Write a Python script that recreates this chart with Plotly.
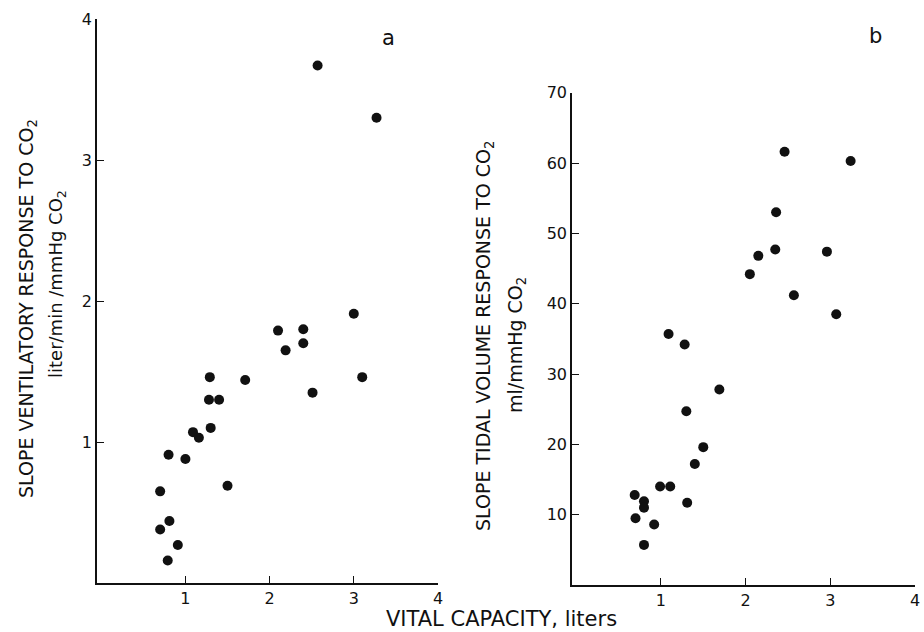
import plotly.graph_objects as go

# Panel a: slope ventilatory response vs vital capacity
vc_a = [2.57, 3.27, 3.00, 2.10, 2.40, 2.19, 2.40, 1.29, 1.71, 3.10, 2.51, 1.28,
        1.40, 1.30, 1.09, 1.16, 0.80, 1.00, 1.50, 0.70, 0.81, 0.70, 0.91, 0.79]
vent_a = [3.67, 3.30, 1.91, 1.79, 1.80, 1.65, 1.70, 1.46, 1.44, 1.46, 1.35, 1.30,
          1.30, 1.10, 1.07, 1.03, 0.91, 0.88, 0.69, 0.65, 0.44, 0.38, 0.27, 0.16]

# Panel b: slope tidal volume response vs vital capacity
vc_b = [2.46, 3.24, 2.36, 2.35, 2.15, 2.96, 2.05, 2.57, 3.07, 1.09, 1.28, 1.69,
        1.30, 1.50, 1.40, 0.99, 1.11, 1.31, 0.69, 0.80, 0.80, 0.70, 0.92, 0.80]
tv_b = [61.6, 60.3, 53.0, 47.7, 46.8, 47.4, 44.2, 41.2, 38.5, 35.7, 34.2, 27.8,
        24.7, 19.6, 17.2, 14.0, 14.0, 11.7, 12.8, 11.9, 11.0, 9.5, 8.6, 5.7]

x_ticks = [1, 2, 3, 4]
ya_ticks = [1, 2, 3, 4]
yb_ticks = [10, 20, 30, 40, 50, 60, 70]

FONT = "DejaVu Sans"
INK = "#111111"

fig = go.Figure()
marker = dict(color=INK, size=10, line=dict(width=0))
fig.add_trace(go.Scatter(x=vc_a, y=vent_a, mode="markers", marker=marker,
                         xaxis="x", yaxis="y", showlegend=False))
fig.add_trace(go.Scatter(x=vc_b, y=tv_b, mode="markers", marker=marker,
                         xaxis="x2", yaxis="y2", showlegend=False))

axis_common = dict(showline=True, linecolor=INK, linewidth=1.6, ticks="inside",
                   ticklen=7, tickwidth=1.4, tickcolor=INK, showgrid=False,
                   zeroline=False, automargin=False,
                   tickfont=dict(family=FONT, size=16, color=INK))

fig.update_layout(
    width=924, height=632,
    margin=dict(l=0, r=0, t=0, b=0),
    paper_bgcolor="white", plot_bgcolor="white",
    xaxis=dict(domain=[97/924, 438/924], range=[-0.05, 4], tickvals=x_ticks,
               anchor="y", **axis_common),
    yaxis=dict(domain=[(632-583)/632, (632-19)/632], range=[0, 4],
               tickvals=ya_ticks, anchor="x", **axis_common),
    xaxis2=dict(domain=[572/924, 915/924], range=[-0.05, 4], tickvals=x_ticks,
                anchor="y2", **axis_common),
    yaxis2=dict(domain=[(632-585)/632, (632-92.7)/632], range=[0, 70],
                tickvals=yb_ticks, anchor="x2", **axis_common),
)

def ann(text, x, y, size, angle=0):
    fig.add_annotation(text=text, x=x/924, y=1-y/632, xref="paper", yref="paper",
                       showarrow=False, textangle=angle, xanchor="center",
                       yanchor="middle", font=dict(family=FONT, size=size, color=INK))

ann("SLOPE VENTILATORY RESPONSE TO CO<sub>2</sub>", 28, 309, 19, -90)
ann("liter/min /mmHg CO<sub>2</sub>", 57, 284, 18, -90)
ann("SLOPE TIDAL VOLUME RESPONSE TO CO<sub>2</sub>", 485, 336, 19, -90)
ann("ml/mmHg CO<sub>2</sub>", 516, 345, 19, -90)
ann("VITAL CAPACITY, liters", 501, 619, 21)
ann("a", 388, 38, 21)
ann("b", 875, 36, 21)

fig.write_html("out.html")
